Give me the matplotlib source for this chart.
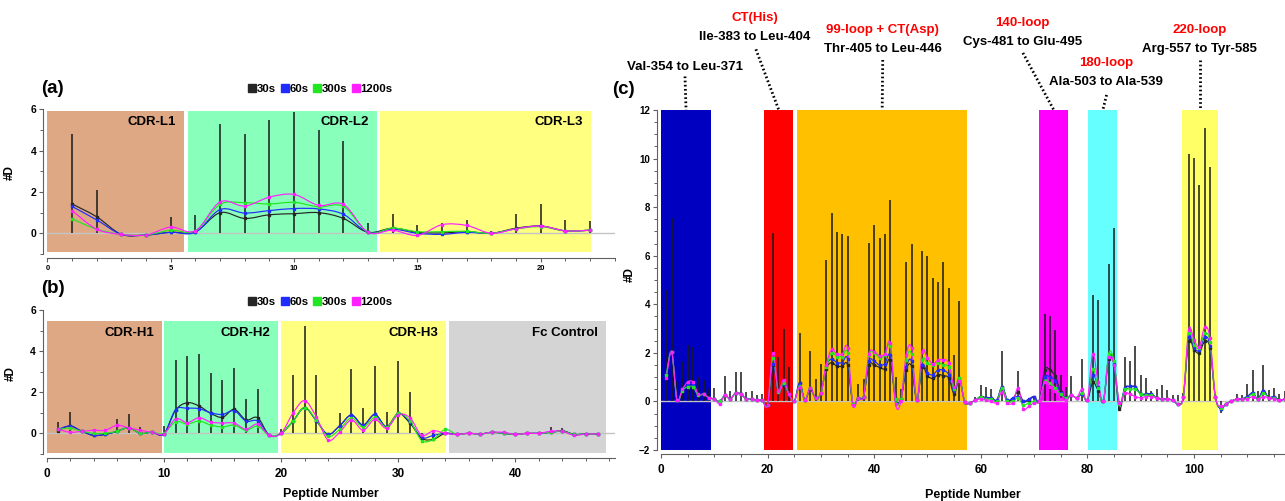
import numpy as np
import matplotlib
matplotlib.use("Agg")
import matplotlib.pyplot as plt
from matplotlib.path import Path
from matplotlib.patches import PathPatch
from matplotlib.lines import Line2D
from matplotlib.ticker import MultipleLocator

plt.rcParams.update({
    "font.family": ["Liberation Sans", "DejaVu Sans"],
    "font.weight": "bold",
    "axes.labelweight": "bold",
    "axes.linewidth": 0.8,
    "axes.edgecolor": "#606060",
    "xtick.color": "#606060",
    "ytick.color": "#606060",
    "xtick.labelcolor": "black",
    "ytick.labelcolor": "black",
    "xtick.direction": "out",
    "ytick.direction": "out",
})

# ---- series styling ----
SERIES_NAMES = ["30s", "60s", "300s", "1200s"]
SERIES_COLORS = ["#262626", "#1f2cff", "#22e622", "#ff1fff"]

# ---- panel (a): light chain CDRs ----
A_PEP = list(range(1, 23))
A_STICK = [4.8, 2.1, 0.0, 0.0, 0.8, 0.9, 5.3, 4.8, 5.5, 5.85, 5.0,
           4.45, 0.5, 0.95, 0.4, 0.5, 0.65, 0.1, 0.95, 1.4, 0.65, 0.6]
A_30 = [1.42, 0.8, -0.05, -0.08, 0.05, 0.08, 1.0, 0.72, 0.9, 0.95, 1.0,
        0.72, 0.05, 0.25, 0.05, 0.02, 0.08, 0.0, 0.25, 0.35, 0.12, 0.15]
A_60 = [1.3, 0.65, -0.05, -0.08, 0.05, 0.05, 1.15, 0.98, 1.1, 1.2, 1.18,
        0.92, 0.05, 0.2, 0.0, -0.05, 0.05, 0.0, 0.22, 0.35, 0.12, 0.15]
A_300 = [0.7, 0.2, -0.05, -0.08, 0.15, 0.12, 1.4, 1.48, 1.42, 1.5, 1.28,
         1.3, 0.05, 0.25, 0.08, 0.08, 0.1, 0.0, 0.22, 0.32, 0.12, 0.15]
A_1200 = [1.1, 0.2, -0.05, -0.08, 0.3, 0.12, 1.52, 1.32, 1.75, 1.88, 1.35,
          1.4, 0.05, 0.15, -0.1, 0.42, 0.38, 0.0, 0.22, 0.35, 0.12, 0.15]
A_REG_NAMES = ["CDR-L1", "CDR-L2", "CDR-L3"]
A_REG_START = [0.0, 5.7, 13.5]
A_REG_END = [5.55, 13.35, 22.05]
A_REG_COLORS = ["#dfa884", "#88ffbb", "#ffff80"]

# ---- panel (b): heavy chain CDRs + Fc ----
B_PEP = list(range(1, 48))
B_STICK = [0.55, 1.02, 0.16, 0.0, 0.0, 0.7, 0.92, 0.3, 0.0, 0.35,
           3.57, 3.78, 3.86, 2.95, 2.6, 3.2, 1.69, 2.14, 0.0, 0.2,
           2.84, 5.23, 2.84, 0.0, 0.97, 3.11, 1.25, 3.27, 1.02, 3.52,
           2.03, -0.45, -0.32, 0.0, -0.15, 0.0, 0.0, 0.1, 0.0, 0.0,
           0.0, 0.0, 0.32, 0.24, -0.16, 0.0, 0.0]
B_30 = [0.13, 0.36, 0.1, -0.1, -0.05, 0.1, 0.27, 0.0, 0.05, -0.03,
        1.13, 1.49, 1.33, 0.97, 0.78, 1.17, 0.65, 0.76, -0.1, 0.0,
        0.58, 1.25, 0.62, -0.05, 0.37, 0.89, 0.4, 0.92, 0.32, 0.97,
        0.49, -0.24, -0.29, 0.0, -0.05, 0.0, -0.03, 0.05, 0.0, -0.05,
        0.0, 0.0, 0.05, 0.13, -0.05, -0.03, -0.03]
B_60 = [0.2, 0.36, 0.1, -0.1, -0.05, 0.1, 0.27, 0.0, 0.05, -0.03,
        1.15, 1.22, 1.2, 1.0, 0.92, 1.1, 0.6, 0.6, -0.1, 0.0,
        0.58, 1.25, 0.62, -0.05, 0.37, 0.89, 0.4, 0.92, 0.32, 0.97,
        0.55, -0.2, -0.1, 0.0, -0.05, 0.0, -0.03, 0.05, 0.0, -0.05,
        0.0, 0.0, 0.05, 0.1, -0.05, -0.03, -0.03]
B_300 = [0.2, 0.25, 0.1, 0.0, 0.0, 0.1, 0.27, 0.0, 0.05, 0.0,
         0.57, 0.45, 0.6, 0.4, 0.31, 0.4, 0.15, 0.35, -0.1, 0.0,
         0.58, 1.25, 0.65, -0.15, 0.2, 0.75, 0.3, 0.78, 0.3, 0.97,
         0.6, -0.35, -0.29, 0.19, -0.05, 0.0, -0.03, 0.05, 0.0, -0.05,
         0.0, 0.0, 0.05, 0.1, -0.05, -0.03, -0.03]
B_1200 = [0.2, 0.05, 0.1, 0.15, 0.15, 0.39, 0.27, 0.15, 0.05, -0.03,
          0.71, 0.52, 0.76, 0.55, 0.5, 0.5, 0.2, 0.45, -0.1, 0.0,
          0.97, 1.59, 0.81, -0.32, 0.05, 0.65, 0.15, 0.68, 0.25, 0.9,
          0.76, -0.1, 0.13, 0.0, -0.05, 0.0, -0.03, 0.05, 0.05, -0.05,
          0.0, 0.0, 0.1, 0.1, -0.1, -0.03, -0.03]
B_REG_NAMES = ["CDR-H1", "CDR-H2", "CDR-H3", "Fc Control"]
B_REG_START = [0.0, 10.05, 20.0, 34.3]
B_REG_END = [9.8, 19.75, 34.1, 47.7]
B_REG_COLORS = ["#dfa884", "#88ffbb", "#ffff80", "#d4d4d4"]

# ---- panel (c): antigen peptides ----
C_PEP = list(range(1, 118))
C_STICK = [4.6, 7.55, 0.85, 1.65, 2.32, 2.25, 1.0, 0.9, 0.5, 0.55,
           0.0, 1.05, 0.45, 1.2, 1.22, 0.4, 0.45, 0.28, 0.32, 0.0,
           6.95, 1.85, 3.0, 1.42, 0.0, 2.81, 0.0, 2.08, 0.92, 1.54,
           5.83, 7.75, 6.97, 6.9, 6.83, 0.0, 0.71, 0.93, 6.52, 7.27,
           6.74, 6.89, 8.3, 0.99, 0.52, 5.73, 6.49, 0.0, 6.2, 6.0,
           5.08, 4.92, 5.73, 4.69, 1.92, 4.14, 0.0, 0.0, 0.2, 0.69,
           0.59, 0.51, 0.0, 2.09, 0.0, 0.0, 1.26, 0.0, 0.0, 0.2,
           0.0, 3.6, 3.53, 2.95, 1.07, 0.59, 1.06, 0.0, 1.76, 0.0,
           4.39, 4.18, 0.0, 5.67, 7.15, -0.4, 1.85, 1.65, 2.3, 1.07,
           0.96, 0.41, 0.51, 0.69, 0.48, 0.27, 0.27, 0.34, 10.18, 10.04,
           8.92, 11.25, 9.64, 0.0, -0.48, 0.0, 0.0, 0.3, 0.25, 0.73,
           1.3, 0.41, 1.48, 0.48, 0.55, 0.3, 0.45]
C_30 = [1.1, 2.05, 0.05, 0.45, 0.6, 0.6, 0.25, 0.3, 0.15, 0.1,
        0.0, 0.25, 0.1, 0.35, 0.3, 0.1, 0.1, 0.05, 0.05, -0.15,
        1.5, 0.4, 0.7, 0.3, 0.0, 0.75, 0.05, 0.5, 0.15, 0.35,
        1.35, 1.6, 1.45, 1.45, 1.5, -0.1, 0.15, 0.2, 1.5, 1.5,
        1.4, 1.35, 1.7, 0.1, 0.1, 1.3, 1.45, 0.05, 1.4, 1.05,
        0.95, 1.1, 1.06, 0.96, 0.32, 0.9, -0.04, -0.05, 0.05, 0.2,
        0.15, 0.15, 0.05, 0.6, 0.05, 0.1, 0.4, 0.0, 0.05, 0.2,
        0.0, 1.3, 1.28, 1.03, 0.38, 0.15, 0.25, 0.15, 0.3, 0.05,
        0.78, 0.45, 0.0, 1.75, 1.5, -0.32, 0.55, 0.6, 0.6, 0.3,
        0.3, 0.3, 0.15, 0.1, 0.1, 0.05, -0.1, 0.2, 2.5, 2.13,
        2.0, 2.47, 2.2, 0.2, -0.3, -0.1, 0.0, 0.1, 0.1, 0.2,
        0.35, 0.1, 0.45, 0.15, 0.2, 0.05, 0.1]
C_60 = [1.1, 2.05, 0.05, 0.45, 0.7, 0.7, 0.3, 0.3, 0.15, 0.1,
        0.0, 0.25, 0.1, 0.35, 0.3, 0.1, 0.1, 0.05, 0.05, -0.15,
        1.55, 0.4, 0.7, 0.3, 0.0, 0.75, 0.05, 0.55, 0.15, 0.35,
        1.45, 1.75, 1.6, 1.6, 1.75, -0.1, 0.15, 0.2, 1.65, 1.65,
        1.5, 1.55, 1.9, 0.1, 0.1, 1.4, 1.65, 0.05, 1.5, 1.17,
        1.1, 1.3, 1.28, 1.1, 0.41, 0.95, -0.04, -0.05, 0.05, 0.2,
        0.15, 0.15, 0.05, 0.6, 0.05, 0.15, 0.2, 0.0, 0.1, 0.2,
        0.0, 1.0, 1.0, 0.85, 0.35, 0.15, 0.25, 0.15, 0.3, 0.05,
        1.1, 0.6, 0.0, 1.85, 1.55, -0.1, 0.55, 0.62, 0.6, 0.3,
        0.3, 0.3, 0.15, 0.1, 0.1, 0.05, -0.1, 0.2, 2.67, 2.2,
        2.1, 2.65, 2.3, 0.2, -0.3, -0.1, 0.0, 0.1, 0.1, 0.2,
        0.35, 0.1, 0.45, 0.15, 0.2, 0.05, 0.1]
C_300 = [1.1, 2.05, 0.05, 0.45, 0.6, 0.6, 0.25, 0.3, 0.15, 0.1,
         0.0, 0.25, 0.1, 0.35, 0.3, 0.1, 0.1, 0.05, 0.05, -0.15,
         1.8, 0.4, 0.75, 0.3, 0.0, 0.65, 0.05, 0.55, 0.15, 0.35,
         1.4, 2.0, 1.85, 1.85, 2.0, -0.1, 0.15, 0.2, 1.9, 2.0,
         1.8, 1.9, 2.3, 0.1, 0.1, 1.7, 1.95, 0.05, 1.7, 1.58,
         1.5, 1.6, 1.5, 1.4, 0.5, 0.95, -0.04, -0.05, 0.05, 0.2,
         0.1, 0.1, 0.0, 0.55, 0.0, 0.0, 0.15, -0.15, -0.05, 0.0,
         0.0, 0.85, 0.75, 0.55, 0.3, 0.15, 0.25, 0.15, 0.35, 0.05,
         1.35, 0.55, 0.0, 1.96, 1.65, -0.1, 0.5, 0.5, 0.5, 0.3,
         0.25, 0.25, 0.15, 0.1, 0.1, 0.05, -0.1, 0.2, 2.8, 2.33,
         2.2, 2.8, 2.45, 0.2, -0.25, -0.1, 0.0, 0.1, 0.1, 0.15,
         0.3, 0.1, 0.35, 0.15, 0.15, 0.05, 0.1]
C_1200 = [0.95, 2.05, 0.05, 0.5, 0.8, 0.8, 0.3, 0.3, 0.15, 0.1,
          -0.1, 0.25, 0.1, 0.35, 0.3, 0.1, 0.1, 0.05, 0.05, -0.15,
          2.0, 0.45, 0.9, 0.3, 0.0, 0.6, 0.05, 0.55, 0.15, 0.35,
          1.5, 2.15, 1.95, 1.95, 2.2, -0.15, 0.15, 0.2, 1.95, 2.05,
          1.88, 1.95, 2.4, -0.1, 0.0, 1.9, 2.2, 0.05, 2.05, 1.8,
          1.55, 1.7, 1.72, 1.58, 0.59, 0.85, -0.04, -0.05, 0.05, 0.1,
          0.05, 0.0, -0.05, 0.4, -0.05, -0.05, 0.55, -0.3, -0.2, -0.05,
          0.0, 0.8, 0.6, 0.45, 0.1, 0.05, 0.25, 0.15, 0.5, 0.05,
          1.96, 0.8, 0.0, 1.82, 1.5, -0.05, 0.35, 0.3, 0.2, 0.15,
          0.2, 0.2, 0.15, 0.1, 0.1, 0.05, -0.1, 0.2, 2.95, 2.54,
          2.25, 3.06, 2.6, 0.2, -0.2, -0.1, 0.0, 0.1, 0.1, 0.1,
          0.2, 0.1, 0.2, 0.15, 0.1, 0.05, 0.1]
C_REG_START = [0.0, 19.4, 25.6, 71.0, 80.2, 97.7]
C_REG_END = [9.4, 24.8, 57.4, 76.4, 85.6, 104.5]
C_REG_COLORS = ["#0000c0", "#ff0000", "#ffc000", "#ff00ff", "#66ffff", "#ffff66"]
# callouts: red loop name (may be empty), residue range, text x, text y, line start (x, y)
C_LOOP = ["", "CT(His)", "99-loop + CT(Asp)", "140-loop", "180-loop", "220-loop"]
C_RANGE = ["Val-354 to Leu-371", "Ile-383 to Leu-404", "Thr-405 to Leu-446",
           "Cys-481 to Glu-495", "Ala-503 to Ala-539", "Arg-557 to Tyr-585"]
C_TXT_X = [4.5, 17.6, 41.6, 67.8, 83.5, 101.1]
C_TXT_Y = [13.79, 15.0, 14.51, 14.81, 13.17, 14.51]
C_LINE_X0 = [4.5, 17.8, 41.6, 67.9, 83.6, 101.1]
C_LINE_Y0 = [13.38, 14.5, 14.06, 14.35, 12.62, 14.06]

W, H = 1285, 501
fig = plt.figure(figsize=(W / 100, H / 100), dpi=100)


def px_axes(left, right, top, bottom):
    return fig.add_axes([left / W, 1 - bottom / H, (right - left) / W, (bottom - top) / H])


def smooth_line(ax, x, y, color, lw=0.85):
    # Catmull-Rom style cubic Bezier through every point
    pts = np.column_stack([x, y]).astype(float)
    n = len(pts)
    verts, codes = [pts[0]], [Path.MOVETO]
    for i in range(n - 1):
        p0 = pts[i - 1] if i > 0 else pts[i]
        p1, p2 = pts[i], pts[i + 1]
        p3 = pts[i + 2] if i + 2 < n else pts[i + 1]
        verts += [p1 + (p2 - p0) / 6, p2 - (p3 - p1) / 6, p2]
        codes += [Path.CURVE4] * 3
    ax.add_patch(PathPatch(Path(verts, codes), fill=False, edgecolor=color,
                           lw=lw, zorder=3))
    ax.plot(x, y, ls="none", marker="s", ms=1.7, color=color, zorder=4)


def style_axes(ax):
    for s in ["top", "right"]:
        ax.spines[s].set_visible(False)
    for s in ["left", "bottom"]:
        ax.spines[s].set_position(("outward", 3))
    ax.tick_params(which="major", length=3.2, width=0.8)
    ax.tick_params(which="minor", length=2.2, width=0.7)


def draw_data(ax, pep, sticks, series):
    ax.vlines(pep, 0, sticks, color="#1a1a1a", lw=1.1, zorder=2)
    ax.axhline(0, color="#c4c4c4", lw=1.0, zorder=1.5)
    for vals, c in zip(series, SERIES_COLORS):
        smooth_line(ax, pep, vals, c)


def add_legend(ax, cx, cy):
    handles = [Line2D([], [], ls="none", marker="s", ms=5.5, color=c) for c in SERIES_COLORS]
    ax.legend(handles, SERIES_NAMES, loc="center", bbox_to_anchor=(cx / W, 1 - cy / H),
              bbox_transform=fig.transFigure, ncol=4, frameon=False, handlelength=0.55,
              handletextpad=0.12, columnspacing=0.5, borderpad=0,
              prop=dict(weight="bold", size=8.2))


# ---------------- panel (a) ----------------
ax_a = px_axes(47.4, 614.8, 109.3, 254.0)
ax_a.bar(A_REG_START, [5.93 + 0.9] * 3, width=np.subtract(A_REG_END, A_REG_START),
         bottom=-0.9, align="edge", color=A_REG_COLORS, lw=0, zorder=0)
for name, end in zip(A_REG_NAMES, A_REG_END):
    ax_a.annotate(name, (end, 5.4), xytext=(-6, 0), textcoords="offset points",
                  ha="right", va="center", fontsize=9.5, fontweight="bold", zorder=5)
draw_data(ax_a, A_PEP, A_STICK, [A_30, A_60, A_300, A_1200])
ax_a.set_xlim(0, 23)
ax_a.set_ylim(-1, 6)
style_axes(ax_a)
ax_a.xaxis.set_major_locator(MultipleLocator(5))
ax_a.xaxis.set_minor_locator(MultipleLocator(1))
ax_a.yaxis.set_major_locator(MultipleLocator(2))
ax_a.yaxis.set_minor_locator(MultipleLocator(1))
ax_a.tick_params(axis="x", labelsize=5.5, pad=2)
ax_a.tick_params(axis="y", labelsize=7.5, pad=1.5)
ax_a.set_ylabel("#D", fontsize=8.5, fontweight="bold")
ax_a.yaxis.set_label_coords(-0.055, 0.56)
add_legend(ax_a, 321, 89)
fig.text(41 / W, 1 - 88.5 / H, "(a)", fontsize=13.5, fontweight="bold", va="center", ha="left")

# ---------------- panel (b) ----------------
ax_b = px_axes(46.7, 615.1, 310.0, 453.9)
ax_b.bar(B_REG_START, [5.45 + 0.97] * 4, width=np.subtract(B_REG_END, B_REG_START),
         bottom=-0.97, align="edge", color=B_REG_COLORS, lw=0, zorder=0)
for name, end in zip(B_REG_NAMES, B_REG_END):
    ax_b.annotate(name, (end, 4.86), xytext=(-5.5, 0), textcoords="offset points",
                  ha="right", va="center", fontsize=9.5, fontweight="bold", zorder=5)
draw_data(ax_b, B_PEP, B_STICK, [B_30, B_60, B_300, B_1200])
ax_b.set_xlim(0, 48.5)
ax_b.set_ylim(-1, 6)
style_axes(ax_b)
ax_b.xaxis.set_major_locator(MultipleLocator(10))
ax_b.xaxis.set_minor_locator(MultipleLocator(2))
ax_b.yaxis.set_major_locator(MultipleLocator(2))
ax_b.yaxis.set_minor_locator(MultipleLocator(1))
ax_b.tick_params(axis="x", labelsize=8.5, pad=4)
ax_b.tick_params(axis="y", labelsize=7.5, pad=1.5)
ax_b.set_ylabel("#D", fontsize=8.5, fontweight="bold")
ax_b.yaxis.set_label_coords(-0.053, 0.555)
ax_b.set_xlabel("Peptide Number", fontsize=9, fontweight="bold", labelpad=6)
add_legend(ax_b, 321, 301.7)
fig.text(41 / W, 1 - 288.5 / H, "(b)", fontsize=13.5, fontweight="bold", va="center", ha="left")

# ---------------- panel (c) ----------------
ax_c = px_axes(661.0, 1284.6, 110.0, 450.0)
for x0, x1, c in zip(C_REG_START, C_REG_END, C_REG_COLORS):
    ax_c.axvspan(x0, x1, color=c, lw=0, zorder=0)
draw_data(ax_c, C_PEP, C_STICK, [C_30, C_60, C_300, C_1200])
ax_c.set_xlim(0, 117)
ax_c.set_ylim(-2, 12)
style_axes(ax_c)
ax_c.xaxis.set_major_locator(MultipleLocator(20))
ax_c.xaxis.set_minor_locator(MultipleLocator(5))
ax_c.yaxis.set_major_locator(MultipleLocator(2))
ax_c.yaxis.set_minor_locator(MultipleLocator(0.5))
ax_c.tick_params(axis="x", labelsize=8.5, pad=4)
ax_c.tick_params(axis="y", labelsize=7, pad=1.5)
ax_c.set_ylabel("#D", fontsize=8.5, fontweight="bold")
ax_c.yaxis.set_label_coords(-0.04, 0.515)
ax_c.set_xlabel("Peptide Number", fontsize=9, fontweight="bold", labelpad=9)

line_h = 0.78  # gap between the red loop name and the residue range, in data units
for i in range(len(C_RANGE)):
    tip = (C_REG_START[i] + C_REG_END[i]) / 2
    ax_c.plot([C_LINE_X0[i], tip], [C_LINE_Y0[i], 12], color="black", lw=2,
              ls=(0, (0.6, 0.9)), clip_on=False, zorder=6)
    ax_c.text(C_TXT_X[i], C_TXT_Y[i], C_RANGE[i], ha="center", va="center",
              fontsize=9.5, fontweight="bold", clip_on=False)
    if C_LOOP[i]:
        ax_c.text(C_TXT_X[i], C_TXT_Y[i] + line_h, C_LOOP[i], ha="center", va="center",
                  fontsize=9.5, fontweight="bold", color="#ff0000", clip_on=False)
fig.text(612 / W, 1 - 90 / H, "(c)", fontsize=13.5, fontweight="bold", va="center", ha="left")

fig.savefig("out.png", dpi=100)
